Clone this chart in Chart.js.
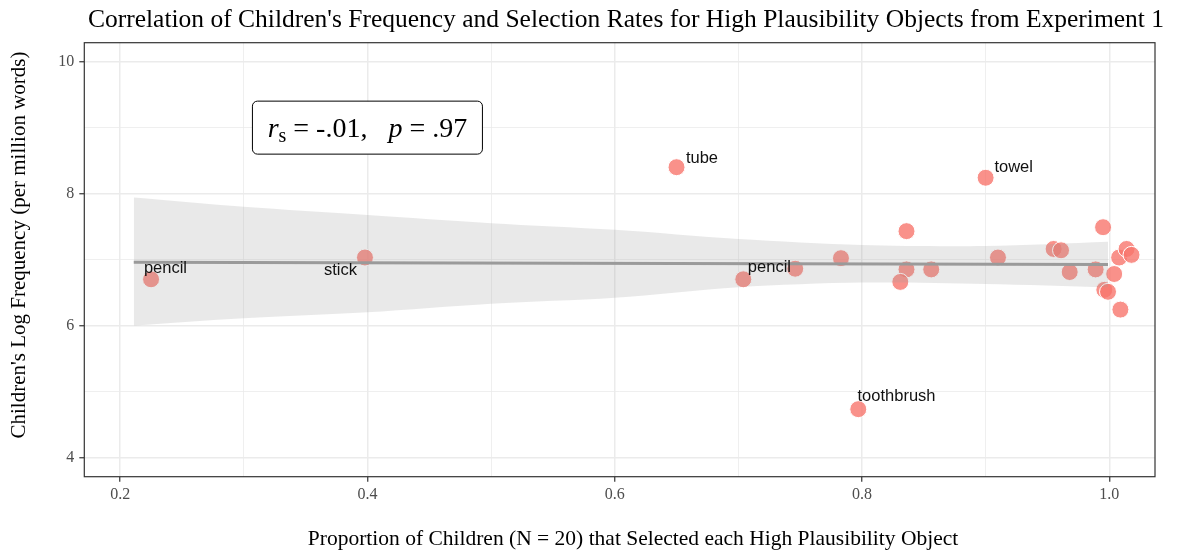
<!DOCTYPE html>
<html>
<head>
<meta charset="utf-8">
<script src="https://cdn.jsdelivr.net/npm/chart.js@4.4.1/dist/chart.umd.min.js"></script>
<style>
  html, body { margin: 0; padding: 0; background: #fff; }
  #wrap { width: 1184px; height: 553px; }
</style>
</head>
<body>
<div id="wrap"><canvas id="corrChart" width="1184" height="553"></canvas></div>
<script>
// selection proportion (x) vs children's log frequency (y)
const propSelected = [0.225, 0.398, 0.650, 0.704, 0.746, 0.783, 0.836, 0.836, 0.831, 0.856,
  0.797, 0.900, 0.910, 0.955, 0.961, 0.968, 0.989, 0.995, 1.004, 0.996, 0.999, 1.008, 1.014, 1.018, 1.009];
const logFreq = [6.70, 7.03, 8.40, 6.70, 6.86, 7.02, 7.43, 6.85, 6.66, 6.85,
  4.73, 8.24, 7.03, 7.16, 7.14, 6.81, 6.85, 7.49, 6.78, 6.54, 6.51, 7.03, 7.16, 7.07, 6.24];

// linear fit + 95% band
const fitX = [0.211, 0.999];
const fitY = [6.96, 6.925];
const bandX = [0.211, 0.3, 0.4, 0.5, 0.6, 0.7, 0.8, 0.9, 0.999];
const bandUpper = [7.94, 7.80, 7.675, 7.55, 7.45, 7.31, 7.22, 7.205, 7.27];
const bandLower = [6.00, 6.11, 6.20, 6.33, 6.42, 6.58, 6.65, 6.63, 6.58];

// repelled text labels (data units: left edge, vertical middle)
const labelText = ['pencil', 'stick', 'tube', 'pencil', 'towel', 'toothbrush'];
const labelX = [0.2192, 0.3649, 0.6576, 0.7077, 0.9071, 0.7964];
const labelY = [6.87, 6.84, 8.535, 6.875, 8.40, 4.93];

const xTicks = [0.2, 0.4, 0.6, 0.8, 1.0];
const yTicks = [4, 6, 8, 10];

const SERIF = '"Liberation Serif", "Times New Roman", serif';
const SANS = '"Liberation Sans", Arial, sans-serif';

const isMajor = (v, list) => list.some(t => Math.abs(t - v) < 1e-6);
const zip = (xs, ys) => xs.map((x, i) => ({ x, y: ys[i] }));

const textPlugin = {
    id: 'ggText',
    afterDatasetsDraw(chart) {
        const { ctx, scales: { x, y } } = chart;
        ctx.save();
        ctx.fillStyle = '#111';
        ctx.font = '16.5px ' + SANS;
        ctx.textBaseline = 'middle';
        ctx.textAlign = 'left';
        labelText.forEach((t, i) => {
            ctx.fillText(t, x.getPixelForValue(labelX[i]), y.getPixelForValue(labelY[i]));
        });

        // stats box
        const cx = x.getPixelForValue(0.4), cy = y.getPixelForValue(9.0);
        const bw = 230, bh = 53;
        ctx.beginPath();
        ctx.roundRect(cx - bw / 2, cy - bh / 2, bw, bh, 5);
        ctx.fillStyle = '#fff';
        ctx.fill();
        ctx.strokeStyle = '#000';
        ctx.lineWidth = 1;
        ctx.stroke();

        const parts = [
            { t: 'r', f: 'italic 28px ' + SERIF, dy: 0 },
            { t: 's', f: '20px ' + SERIF, dy: 5 },
            { t: ' = -.01,   ', f: '28px ' + SERIF, dy: 0 },
            { t: 'p', f: 'italic 28px ' + SERIF, dy: 0 },
            { t: ' = .97', f: '28px ' + SERIF, dy: 0 },
        ];
        let total = 0;
        parts.forEach(p => { ctx.font = p.f; p.w = ctx.measureText(p.t).width; total += p.w; });
        let px = cx - total / 2;
        const base = cy + 9;
        ctx.fillStyle = '#000';
        ctx.textBaseline = 'alphabetic';
        parts.forEach(p => {
            ctx.font = p.f;
            ctx.fillText(p.t, px, base + p.dy);
            px += p.w;
        });
        ctx.restore();
    },
    afterDraw(chart) {
        const { ctx, chartArea: a } = chart;
        ctx.save();
        ctx.strokeStyle = '#333';
        ctx.lineWidth = 1.2;
        ctx.strokeRect(a.left, a.top, a.right - a.left, a.bottom - a.top);

        ctx.fillStyle = '#000';
        ctx.textAlign = 'center';
        ctx.textBaseline = 'middle';
        ctx.font = '25.5px ' + SERIF;
        ctx.fillText("Correlation of Children's Frequency and Selection Rates for High Plausibility Objects from Experiment 1", 626, 20);
        ctx.font = '21.5px ' + SERIF;
        ctx.fillText('Proportion of Children (N = 20) that Selected each High Plausibility Object', 633, 539);
        ctx.translate(19, 245);
        ctx.rotate(-Math.PI / 2);
        ctx.font = '21px ' + SERIF;
        ctx.fillText("Children's Log Frequency (per million words)", 0, 0);
        ctx.restore();
    }
};

const gridOpts = (list) => ({
    color: '#EBEBEB',
    lineWidth: c => isMajor(c.tick.value, list) ? 1.5 : 0.8,
    tickColor: c => isMajor(c.tick.value, list) ? '#333' : 'rgba(0,0,0,0)',
    tickLength: 5,
    tickWidth: 1.2,
});

new Chart(document.getElementById('corrChart'), {
    type: 'scatter',
    data: {
        datasets: [
            {
                label: 'objects', data: zip(propSelected, logFreq), order: 3,
                backgroundColor: 'rgba(248,118,109,0.8)', borderColor: '#fff', borderWidth: 1,
                pointRadius: 8.5, pointHoverRadius: 8.5,
            },
            {
                type: 'line', label: 'upper', data: zip(bandX, bandUpper), order: 2,
                borderWidth: 0, pointRadius: 0, fill: '+1', tension: 0.3,
                backgroundColor: 'rgba(153,153,153,0.22)', borderColor: 'rgba(0,0,0,0)',
            },
            {
                type: 'line', label: 'lower', data: zip(bandX, bandLower), order: 2,
                borderWidth: 0, pointRadius: 0, fill: false, tension: 0.3,
                borderColor: 'rgba(0,0,0,0)',
            },
            {
                type: 'line', label: 'fit', data: zip(fitX, fitY), order: 1,
                borderColor: '#9A9A9A', borderWidth: 3, pointRadius: 0, fill: false,
            },
        ]
    },
    options: {
        responsive: false, animation: false, devicePixelRatio: 1,
        layout: { padding: { top: 42.7, right: 29, left: 0, bottom: 0 } },
        plugins: { legend: { display: false }, tooltip: { enabled: false }, title: { display: false } },
        scales: {
            x: {
                type: 'linear', min: 0.171, max: 1.037,
                afterFit: s => { s.height = 76.3; },
                border: { display: false },
                grid: gridOpts(xTicks),
                ticks: {
                    stepSize: 0.1, includeBounds: false, autoSkip: false, maxRotation: 0, padding: 3,
                    color: '#4D4D4D', font: { family: SERIF, size: 16 },
                    callback: v => isMajor(v, xTicks) ? v.toFixed(1) : '',
                },
            },
            y: {
                type: 'linear', min: 3.706, max: 10.288,
                afterFit: s => { s.width = 84.3; },
                border: { display: false },
                grid: gridOpts(yTicks),
                ticks: {
                    stepSize: 1, includeBounds: false, autoSkip: false, padding: 5,
                    color: '#4D4D4D', font: { family: SERIF, size: 16 },
                    callback: v => isMajor(v, yTicks) ? String(v) : '',
                },
            },
        },
    },
    plugins: [textPlugin],
});
</script>
</body>
</html>
